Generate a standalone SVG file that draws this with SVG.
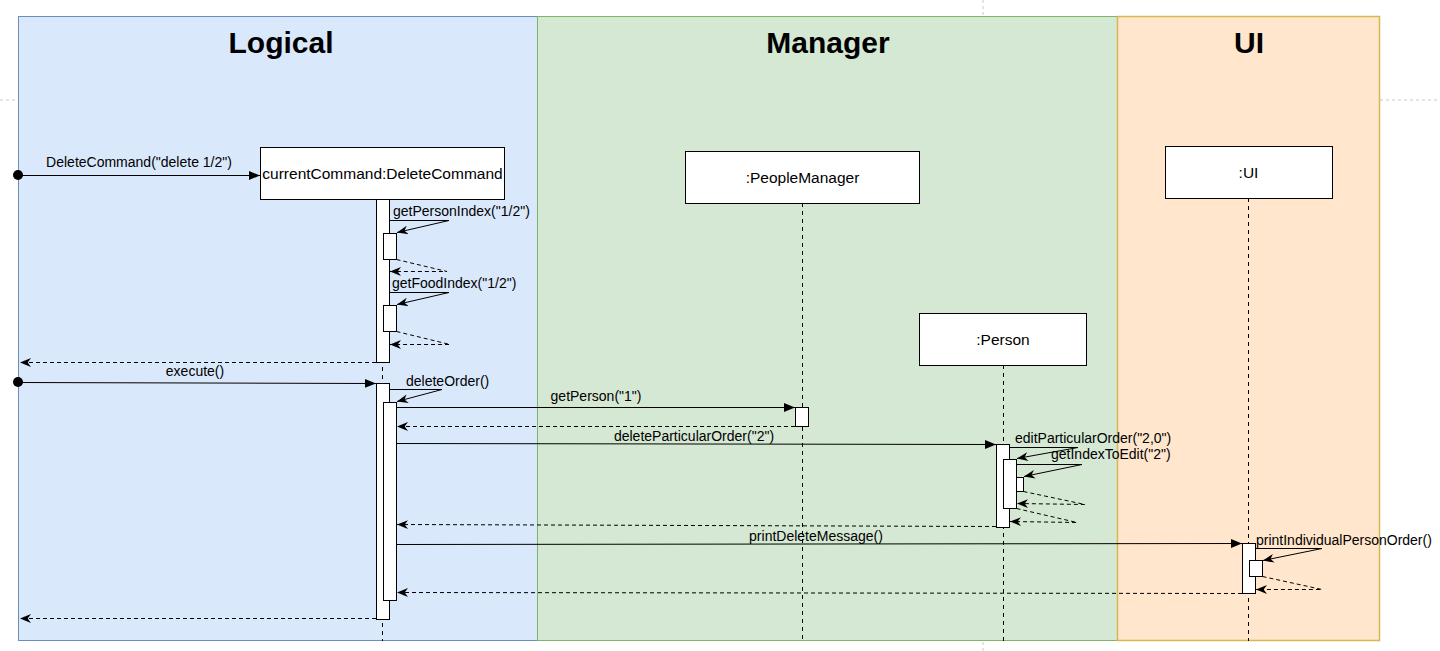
<svg xmlns="http://www.w3.org/2000/svg" width="1440" height="651" viewBox="0 0 1440 651">
<style>
text{font-family:"Liberation Sans",Arial,sans-serif;fill:#000}
.title{font-size:30px;font-weight:bold;text-anchor:middle}
.lbl{font-size:14px}
.mid{text-anchor:middle}
.box{fill:#fff;stroke:#000;stroke-width:1}
.bname{font-size:15.5px;text-anchor:middle}
.life{stroke:#000;stroke-width:1;stroke-dasharray:4 4;fill:none}
.act{fill:#fff;stroke:#000;stroke-width:1}
.call{stroke:#000;stroke-width:1;fill:none;marker-end:url(#block)}
.self{stroke:#000;stroke-width:1;fill:none;marker-end:url(#classic)}
.ret{stroke:#000;stroke-width:1;fill:none;stroke-dasharray:4 3;marker-end:url(#classic)}
.guide{stroke:#c8c8c8;stroke-width:1;stroke-dasharray:3 3}
</style>
<defs>
<marker id="block" viewBox="0 0 10 8" refX="10" refY="4" markerWidth="11" markerHeight="9" markerUnits="userSpaceOnUse" orient="auto">
<path d="M0,0 L10,4 L0,8 Z" fill="#000"/>
</marker>
<marker id="classic" viewBox="0 0 10 8" refX="10" refY="4" markerWidth="11" markerHeight="9" markerUnits="userSpaceOnUse" orient="auto">
<path d="M0,0 L10,4 L0,8 L3,4 Z" fill="#000"/>
</marker>
</defs>
<rect width="1440" height="651" fill="#fff"/>
<line class="guide" x1="0" y1="100" x2="1440" y2="100"/>
<line class="guide" x1="983" y1="0" x2="983" y2="651"/>

<g id="lane-logical">
<rect x="18.5" y="16.5" width="519" height="624" fill="#dae8fc" stroke="#6c8ebf"/>
<text class="title" x="281" y="53">Logical</text>
</g>
<g id="lane-manager">
<rect x="537.5" y="16.5" width="580" height="624" fill="#d5e8d4" stroke="#82b366"/>
<text class="title" x="828" y="53">Manager</text>
</g>
<g id="lane-ui">
<rect x="1117.5" y="16.5" width="262" height="624" fill="#ffe6cc" stroke="#d6b656" stroke-width="1.5"/>
<text class="title" x="1249" y="53">UI</text>
</g>

<g id="node-currentCommand">
<line class="life" x1="382.5" y1="199" x2="382.5" y2="641"/>
<rect class="box" x="260.5" y="147.5" width="244" height="52"/>
<text x="382.5" y="179" style="font-size:15.5px;text-anchor:middle">currentCommand:DeleteCommand</text>
<rect class="act" x="376.5" y="199.5" width="13" height="163"/>
<rect class="act" x="383.5" y="233.5" width="13" height="26"/>
<rect class="act" x="383.5" y="305.5" width="13" height="26"/>
<rect class="act" x="376.5" y="383.5" width="13" height="236"/>
<rect class="act" x="383.5" y="402.5" width="13" height="198"/>
</g>

<g id="node-peopleManager">
<line class="life" x1="802.5" y1="203" x2="802.5" y2="641"/>
<rect class="box" x="685.5" y="151.5" width="234" height="52"/>
<text class="bname" x="802.5" y="183">:PeopleManager</text>
<rect class="act" x="795.5" y="407.5" width="13" height="19"/>
</g>

<g id="node-person">
<line class="life" x1="1003.5" y1="365" x2="1003.5" y2="641"/>
<rect class="box" x="919.5" y="313.5" width="167" height="52"/>
<text class="bname" x="1003" y="345">:Person</text>
<rect class="act" x="996.5" y="444.5" width="13" height="83"/>
<rect class="act" x="1003.5" y="459.5" width="13" height="49"/>
<rect class="act" x="1016.5" y="477.5" width="7" height="14"/>
</g>

<g id="node-ui">
<line class="life" x1="1248.5" y1="198" x2="1248.5" y2="641"/>
<rect class="box" x="1165.5" y="146.5" width="167" height="52"/>
<text class="bname" x="1248.5" y="178">:UI</text>
<rect class="act" x="1242.5" y="543.5" width="13" height="50"/>
<rect class="act" x="1249.5" y="560.5" width="13" height="16"/>
</g>

<g id="connectors">
<circle cx="18" cy="175" r="5" fill="#000"/>
<line class="call" x1="18" y1="175.5" x2="260" y2="175.5"/>
<text class="lbl mid" x="139" y="167">DeleteCommand("delete 1/2")</text>

<polyline class="self" points="389.5,220.5 449,220.5 397,232.5"/>
<text class="lbl" x="393" y="216">getPersonIndex("1/2")</text>
<polyline class="ret" points="396.5,259.5 447,271.5 390,271.5"/>

<polyline class="self" points="389.5,292.5 449,292.5 397,304.5"/>
<text class="lbl" x="392" y="288">getFoodIndex("1/2")</text>
<polyline class="ret" points="396.5,331.5 450,344.5 390,344.5"/>

<line class="ret" x1="376" y1="362.5" x2="20" y2="362.5"/>

<circle cx="18" cy="382" r="5" fill="#000"/>
<line class="call" x1="18" y1="382.5" x2="376" y2="383.5"/>
<text class="lbl mid" x="195" y="376">execute()</text>

<polyline class="self" points="389.5,389.5 442,389.5 397,401.5"/>
<text class="lbl" x="406" y="386">deleteOrder()</text>

<line class="call" x1="396.5" y1="407.5" x2="795" y2="407.5"/>
<text class="lbl mid" x="596" y="401">getPerson("1")</text>
<line class="ret" x1="795" y1="426.5" x2="397" y2="426.5"/>

<line class="call" x1="396.5" y1="443.5" x2="996" y2="444.5"/>
<text class="lbl mid" x="694" y="441">deleteParticularOrder("2")</text>

<polyline class="self" points="1009.5,447.5 1078,447.5 1017,458.5"/>
<text class="lbl" x="1015" y="443">editParticularOrder("2,0")</text>
<polyline class="self" points="1016.5,464.5 1082,464.5 1024,476.5"/>
<text class="lbl" x="1051" y="459">getIndexToEdit("2")</text>
<polyline class="ret" points="1023.5,491.5 1085,504.5 1017,503.5"/>
<polyline class="ret" points="1016.5,508.5 1077,522.5 1010,521.5"/>

<line class="ret" x1="996" y1="526.5" x2="397" y2="524.5"/>

<line class="call" x1="396.5" y1="544.5" x2="1242" y2="543.5"/>
<text class="lbl mid" x="816" y="541">printDeleteMessage()</text>

<polyline class="self" points="1255.5,548.5 1322,548.5 1263,560.5"/>
<text class="lbl" x="1256" y="545">printIndividualPersonOrder()</text>
<polyline class="ret" points="1262.5,576.5 1322,589.5 1256,589.5"/>

<line class="ret" x1="1242" y1="593.5" x2="397" y2="592.5"/>

<line class="ret" x1="376" y1="618.5" x2="20" y2="618.5"/>
</g>
</svg>
